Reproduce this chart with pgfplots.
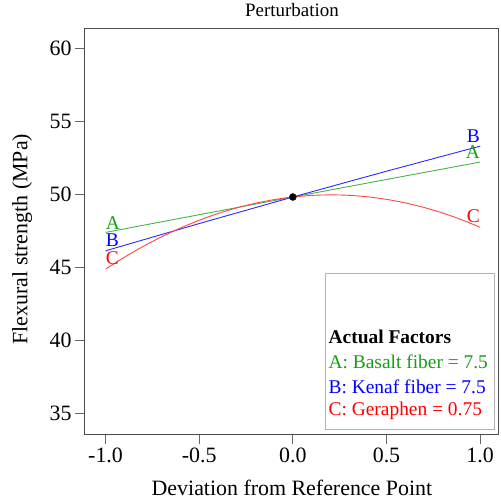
\documentclass[border=0pt]{standalone}
\usepackage{fontspec}
\setmainfont{Liberation Serif}
\usepackage{pgfplots}
\pgfplotsset{compat=1.18}
\definecolor{lA}{RGB}{70,180,70}
\definecolor{lB}{RGB}{40,40,255}
\definecolor{lC}{RGB}{255,70,70}
\definecolor{tA}{RGB}{20,160,20}
\definecolor{tB}{RGB}{0,0,255}
\definecolor{tC}{RGB}{255,0,0}
\begin{document}
\begin{tikzpicture}
\begin{axis}[
  width=414bp, height=406bp, scale only axis,
  xmin=-1.11, xmax=1.10, ymin=33.61, ymax=61.37,
  xtick={-1,-0.5,0,0.5,1}, xticklabels={-1.0,-0.5,0.0,0.5,1.0},
  ytick={35,40,45,50,55,60}, yticklabels={35,40,45,50,55,60},
  xtick pos=bottom, ytick pos=left,
  tick align=outside, major tick length=10bp,
  tick style={draw=black!60, line width=0.9bp},
  axis line style={draw=black!70, line width=1bp},
  tick label style={font=\fontsize{22}{26}\selectfont},
  title={Perturbation},
  title style={font=\fontsize{19}{22}\selectfont, at={(axis description cs:0.5,1.03)}, anchor=center},
  xlabel={Deviation from Reference Point},
  ylabel={Flexural strength (MPa)},
  label style={font=\fontsize{22}{26}\selectfont},
  xlabel style={at={(axis description cs:0.5,-0.133)}, anchor=center},
  ylabel style={at={(axis description cs:-0.152,0.48)}, anchor=center, rotate=0},
  clip=false,
]
\path (rel axis cs:-0.2053,-0.165) rectangle (rel axis cs:1.0048,1.0616);
% A: Basalt fiber
\addplot[lA, line width=0.9bp] coordinates {(-1,47.40) (-0.5,48.61) (0,49.82) (0.5,51.02) (1,52.21)};
% B: Kenaf fiber
\addplot[lB, line width=0.9bp] coordinates {(-1,46.14) (-0.5,48.005) (0,49.82) (0.5,51.585) (1,53.30)};
% C: Geraphen
\addplot[lC, line width=0.9bp, smooth] coordinates {
(-1,44.89) (-0.9,45.698) (-0.8,46.436) (-0.7,47.104) (-0.6,47.702) (-0.5,48.23)
(-0.4,48.688) (-0.3,49.076) (-0.2,49.394) (-0.1,49.642) (0,49.82) (0.1,49.928)
(0.2,49.966) (0.3,49.934) (0.4,49.832) (0.5,49.66) (0.6,49.418) (0.7,49.106)
(0.8,48.724) (0.9,48.272) (1,47.75)};
\addplot[only marks, mark=*, mark size=3.5bp, black] coordinates {(0,49.82)};
\begin{scope}[font=\fontsize{19.5}{23}\selectfont]
\node[text=tA, anchor=west, inner sep=0] at (axis cs:-1,48.04) {A};
\node[text=tB, anchor=west, inner sep=0] at (axis cs:-1,46.85) {B};
\node[text=tC, anchor=west, inner sep=0] at (axis cs:-1,45.65) {C};
\node[text=tB, anchor=east, inner sep=0] at (axis cs:1,53.99) {B};
\node[text=tA, anchor=east, inner sep=0] at (axis cs:1,52.89) {A};
\node[text=tC, anchor=east, inner sep=0] at (axis cs:1,48.52) {C};
\draw[black!30, line width=1bp] (axis cs:0.174,33.91) rectangle (axis cs:1.079,44.57);
\node[anchor=west, inner sep=0, font=\fontsize{19.5}{23}\selectfont\bfseries] at (axis cs:0.19,40.24) {Actual Factors};
\node[text=tA, anchor=west, inner sep=0] at (axis cs:0.19,38.54) {A: Basalt fiber = 7.5};
\node[text=tB, anchor=west, inner sep=0] at (axis cs:0.19,36.83) {B: Kenaf fiber = 7.5};
\node[text=tC, anchor=west, inner sep=0] at (axis cs:0.19,35.19) {C: Geraphen = 0.75};
\end{scope}
\end{axis}
\end{tikzpicture}
\end{document}
